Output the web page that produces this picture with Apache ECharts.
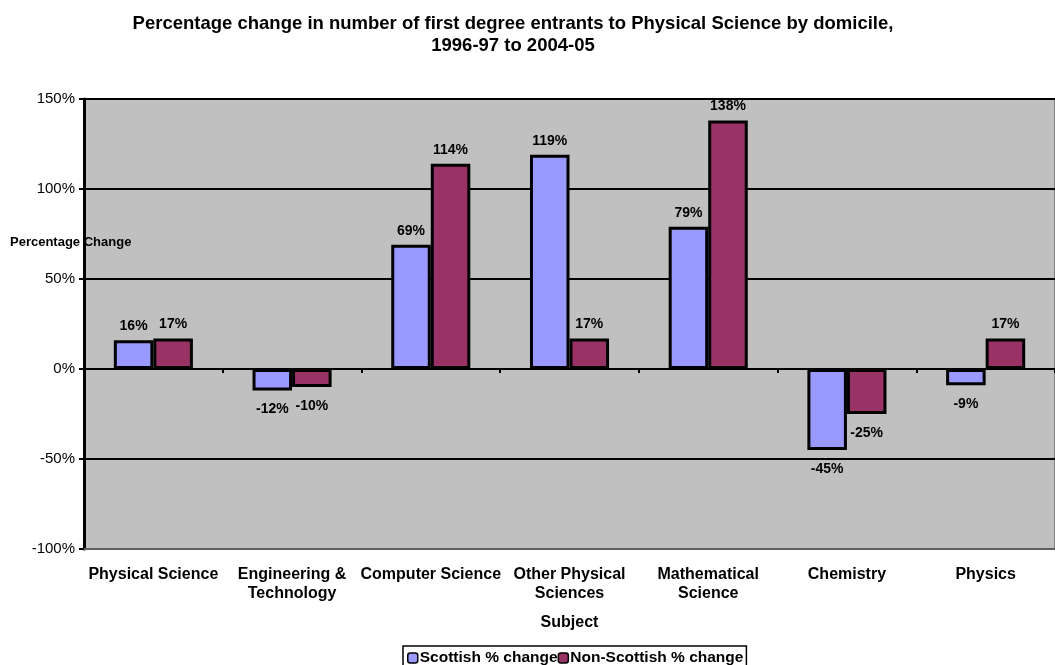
<!DOCTYPE html>
<html>
<head>
<meta charset="utf-8">
<script src="https://cdn.jsdelivr.net/npm/echarts@6/dist/echarts.min.js"></script>
<style>
  html, body { margin: 0; padding: 0; background: #fff; }
  #chart { width: 1055px; height: 665px; }
</style>
</head>
<body>
<div id="chart"></div>
<script>
// Subjects along the x axis
const subjects = ['Physical Science', 'Engineering &\nTechnology', 'Computer Science',
  'Other Physical\nSciences', 'Mathematical\nScience', 'Chemistry', 'Physics'];
// Percentage change 1996-97 to 2004-05
const scottish = [16, -12, 69, 119, 79, -45, -9];
const nonScottish = [17, -10, 114, 17, 138, -25, 17];
const yTicks = { min: -100, max: 150, interval: 50 };

const FONT = '"Liberation Sans", Arial, sans-serif';
const chart = echarts.init(document.getElementById('chart'), null, { renderer: 'canvas' });

const labelStyle = {
  show: true,
  fontFamily: FONT,
  fontWeight: 'bold',
  fontSize: 14,
  color: '#000',
  formatter: p => p.value + '%'
};

function makeSeries(name, values, color) {
  return {
    name: name,
    type: 'bar',
    xAxisIndex: 0,
    barGap: '0%',
    barCategoryGap: '43%',
    data: values.map(v => ({
      value: v,
      label: Object.assign({}, labelStyle, v >= 0
        ? { position: 'top', distance: 7 }
        : { position: 'bottom', distance: 12 })
    })),
    itemStyle: { color: color, borderColor: '#000', borderWidth: 3 }
  };
}

chart.setOption({
  animation: false,
  textStyle: { fontFamily: FONT },
  title: {
    text: 'Percentage change in number of first degree entrants to Physical Science by domicile,\n1996-97 to 2004-05',
    left: 508,
    top: 8,
    textAlign: 'center',
    textStyle: { fontFamily: FONT, fontWeight: 'bold', fontSize: 18.5, color: '#000', lineHeight: 22 }
  },
  grid: { left: 84, top: 99, width: 987, height: 450, backgroundColor: '#C0C0C0', show: true, borderColor: '#808080', borderWidth: 2 },
  legend: {
    left: 403,
    top: 646,
    itemWidth: 10,
    itemHeight: 10,
    itemGap: 0,
    padding: [4, 3, 10, 4],
    borderColor: '#000',
    borderWidth: 1.5,
    itemStyle: { borderColor: '#000', borderWidth: 1.5 },
    textStyle: { fontFamily: FONT, fontWeight: 'bold', fontSize: 15.5, color: '#000', padding: [0, 0, 0, -3] },
    data: ['Scottish % change', 'Non-Scottish % change']
  },
  xAxis: [
    {
      type: 'category',
      data: subjects,
      position: 'bottom',
      axisLine: { onZero: false, lineStyle: { color: '#606060', width: 2 } },
      axisTick: { show: false },
      axisLabel: { fontFamily: FONT, fontWeight: 'bold', fontSize: 16, color: '#000', margin: 16, lineHeight: 19, interval: 0 },
      name: 'Subject',
      nameLocation: 'middle',
      nameGap: 66,
      nameTextStyle: { fontFamily: FONT, fontWeight: 'bold', fontSize: 16, color: '#000' }
    },
    {
      type: 'category',
      data: subjects,
      position: 'bottom',
      axisLine: { onZero: true, lineStyle: { color: '#000', width: 2 } },
      axisTick: { show: true, length: 4, lineStyle: { color: '#000', width: 2 } },
      axisLabel: { show: false }
    }
  ],
  yAxis: {
    type: 'value',
    min: yTicks.min,
    max: yTicks.max,
    interval: yTicks.interval,
    axisLine: { show: true, lineStyle: { color: '#000', width: 3 } },
    axisTick: { show: true, length: 5, lineStyle: { color: '#000', width: 2 } },
    axisLabel: { fontFamily: FONT, fontSize: 15, color: '#000', margin: 9, formatter: v => v + '%' },
    splitLine: { show: true, lineStyle: { color: '#000', width: 2 } }
  },
  graphic: [
    {
      type: 'text',
      left: 10,
      top: 236,
      style: { text: 'Percentage Change', fontFamily: FONT, fontWeight: 'bold', fontSize: 13, fill: '#000' }
    }
  ],
  series: [
    makeSeries('Scottish % change', scottish, '#9999FF'),
    makeSeries('Non-Scottish % change', nonScottish, '#993366')
  ]
});
</script>
</body>
</html>
